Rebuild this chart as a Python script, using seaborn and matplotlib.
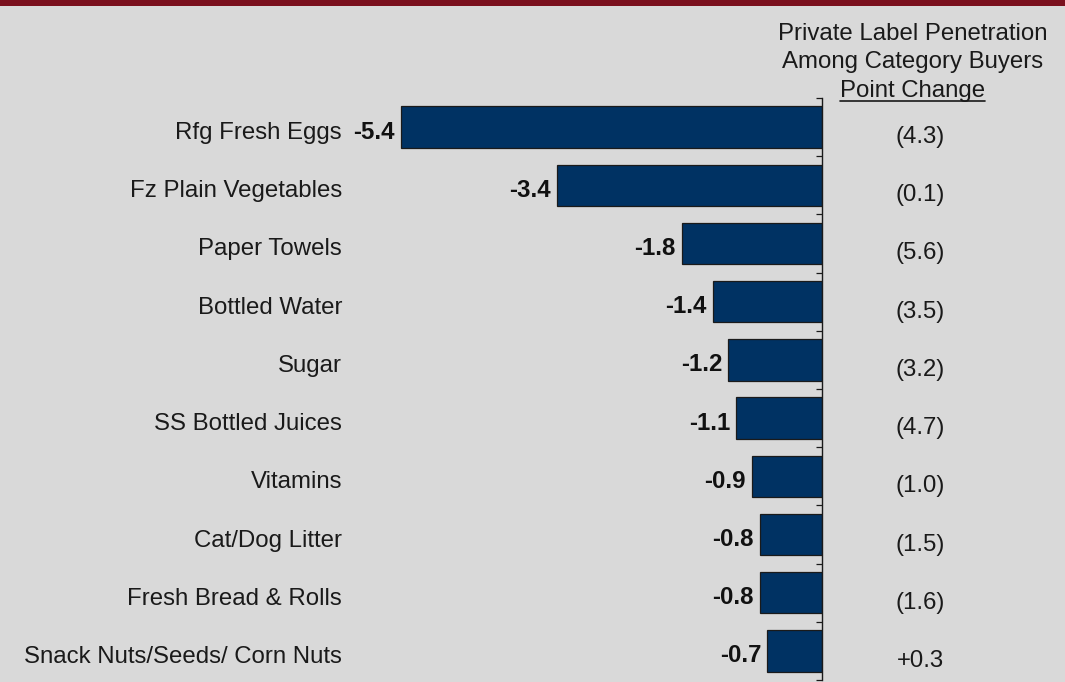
import matplotlib
matplotlib.use("Agg")
import matplotlib.pyplot as plt
import matplotlib.transforms as mtransforms
from matplotlib.lines import Line2D
import seaborn as sns
import pandas as pd

categories = [
    "Rfg Fresh Eggs",
    "Fz Plain Vegetables",
    "Paper Towels",
    "Bottled Water",
    "Sugar",
    "SS Bottled Juices",
    "Vitamins",
    "Cat/Dog Litter",
    "Fresh Bread & Rolls",
    "Snack Nuts/Seeds/ Corn Nuts",
]
share_change = [-5.4, -3.4, -1.8, -1.4, -1.2, -1.1, -0.9, -0.8, -0.8, -0.7]
penetration_change = ["(4.3)", "(0.1)", "(5.6)", "(3.5)", "(3.2)",
                      "(4.7)", "(1.0)", "(1.5)", "(1.6)", "+0.3"]
header_lines = ["Private Label Penetration", "Among Category Buyers", "Point Change"]

BG = "#d9d9d9"
BAR = "#003263"
BAND = "#7a101d"
FS = 17.3

sns.set_theme(style="white")
plt.rcParams["font.family"] = ["Liberation Sans", "DejaVu Sans"]

W, H = 1065, 682
fig = plt.figure(figsize=(W / 100, H / 100), dpi=100, facecolor=BG)

# plot area: zero line at x=822px, rows spanning y=98..680px
x_left_px, x_zero_px = 350, 822
px_per_unit = 78.0
ax = fig.add_axes([x_left_px / W, 1 - 680 / H, (x_zero_px - x_left_px) / W, (680 - 98) / H])
ax.set_facecolor("none")

df = pd.DataFrame({"category": categories, "change": share_change})
sns.barplot(data=df, x="change", y="category", orient="h", color=BAR,
            saturation=1, width=0.71, edgecolor="#1a1a1a", linewidth=0.9, ax=ax)

ax.set_xlim(-(x_zero_px - x_left_px) / px_per_unit, 0)
ax.set_ylim(len(categories) - 0.5, -0.5)

for side in ["left", "top", "bottom"]:
    ax.spines[side].set_visible(False)
ax.spines["right"].set_color("#1a1a1a")
ax.spines["right"].set_linewidth(1.0)
ax.set_xticks([])
ax.set_yticks([])
ax.set_xlabel("")
ax.set_ylabel("")
ax.yaxis.set_ticks_position("right")
ax.set_yticks([i - 0.5 for i in range(len(categories) + 1)], minor=True)
ax.tick_params(axis="y", which="minor", direction="in", length=4.5, width=0.9,
               color="#1a1a1a", right=True, left=False, labelright=False)

label_tf = mtransforms.blended_transform_factory(fig.transFigure, ax.transData)
for i, (cat, val, pen) in enumerate(zip(categories, share_change, penetration_change)):
    ax.annotate(cat, xy=(342 / W, i), xycoords=label_tf, xytext=(0, -6),
                textcoords="offset pixels", ha="right", va="center",
                fontsize=FS, color="#1a1a1a")
    ax.annotate(f"{val:.1f}", xy=(val, i), xytext=(-6, -5), textcoords="offset pixels",
                ha="right", va="center", fontsize=FS, fontweight="bold", color="#111111")
    ax.annotate(pen, xy=(920 / W, i), xycoords=label_tf, xytext=(0, -10),
                textcoords="offset pixels", ha="center", va="center",
                fontsize=FS, color="#1a1a1a")

# column header on the right
header_y = [34, 62, 91]
texts = []
for line, y in zip(header_lines, header_y):
    texts.append(fig.text(912.5 / W, 1 - y / H, line, ha="center", va="center",
                          fontsize=FS, color="#1a1a1a"))

fig.canvas.draw()
bb = texts[-1].get_window_extent(fig.canvas.get_renderer())
u_y = 1 - 100.5 / H
fig.add_artist(Line2D([bb.x0 / W, bb.x1 / W], [u_y, u_y], transform=fig.transFigure,
                      color="#1a1a1a", linewidth=1.2))

# dark band along the top edge
fig.add_artist(plt.Rectangle((0, 1 - 6 / H), 1, 6 / H, transform=fig.transFigure,
                             facecolor=BAND, edgecolor="none"))

fig.savefig("out.png", dpi=100, facecolor=BG)
